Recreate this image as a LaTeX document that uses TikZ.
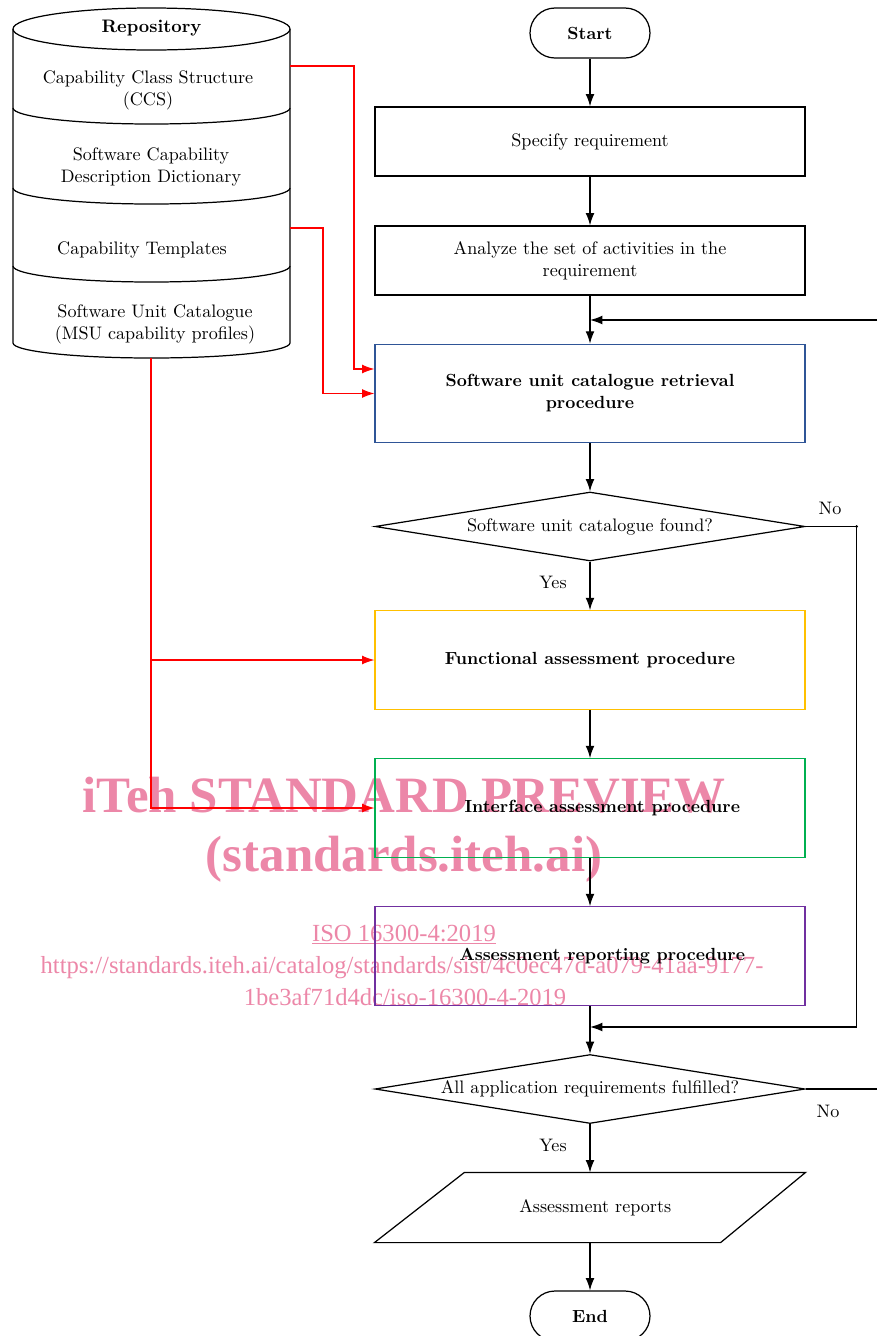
\documentclass[tikz,border=0pt]{standalone}
\usepackage{fontspec}
\newfontfamily\wmfont{Liberation Serif}
\usetikzlibrary{calc, arrows.meta, shapes.geometric}

\definecolor{retrblue}{RGB}{47,85,151}
\definecolor{funcyellow}{RGB}{255,192,0}
\definecolor{intfgreen}{RGB}{0,176,80}
\definecolor{reptpurple}{RGB}{112,48,160}
\definecolor{wmpink}{RGB}{236,135,168}

\begin{document}
\begin{tikzpicture}[x=0.02cm, y=0.02cm, line width=0.7pt,
  font=\fontsize{10.3}{12.5}\selectfont,
  box/.style={draw, rectangle, minimum width=8.6cm, minimum height=1.38cm, align=center, inner sep=2pt},
  bigbox/.style={box, minimum height=1.97cm, font=\fontsize{10}{12.5}\selectfont\bfseries},
  term/.style={draw, rectangle, rounded corners=0.5cm, minimum width=2.4cm, minimum height=1cm, font=\fontsize{10}{12.5}\selectfont\bfseries},
  decision/.style={draw, diamond, aspect=6.2, inner sep=0pt, minimum width=8.6cm, minimum height=1.38cm},
  arr/.style={-{Latex[length=7pt, width=5pt]}},
  redarr/.style={red, line width=0.6pt, -{Latex[length=7pt, width=5pt]}},
  wmbig/.style={text=wmpink, anchor=base, font=\wmfont\fontsize{29}{29}\selectfont\bfseries},
  wmsmall/.style={text=wmpink, anchor=base, font=\wmfont\fontsize{14}{14}\selectfont}
]
  \useasboundingbox (0,0) rectangle (877,-1336);

  % watermark
  \node[wmbig] (wmA) at (404,-812) {iTeh STANDARD PREVIEW};
  \node[wmbig] (wmB) at (404,-871) {(standards.iteh.ai)};
  \node[wmsmall] (wmC) at (404,-941) {\underline{ISO 16300-4:2019}};
  \node[wmsmall] (wmD) at (402,-973) {https://standards.iteh.ai/catalog/standards/sist/4c0ec47d-a079-41aa-9177-};
  \node[wmsmall] (wmE) at (405,-1005) {1be3af71d4dc/iso-16300-4-2019};

  % repository drum
  \draw (151.5,-29) ellipse [x radius=138.5, y radius=21];
  \draw (13,-29) -- (13,-343) arc [start angle=180, end angle=360, x radius=138.5, y radius=15] -- (290,-29);
  \foreach \y in {108,188,266}
    \draw (13,-\y) arc [start angle=180, end angle=360, x radius=138.5, y radius=16];
  \node[font=\fontsize{10.3}{12.5}\selectfont\bfseries] (repo) at (151.5,-28) {Repository};
  \node[align=center] (ccs) at (148,-90) {Capability Class Structure\\(CCS)};
  \node[align=center] (dict) at (151,-167) {Software Capability\\Description Dictionary};
  \node (tmpl) at (142,-250) {Capability Templates};
  \node[align=center] (cat) at (155,-324) {Software Unit Catalogue\\(MSU capability profiles)};
  \coordinate (ccsout) at (290,-66);
  \coordinate (tmplout) at (290,-228);
  \coordinate (catout) at (151,-358);

  % main flow
  \node[term] (start) at (590,-33) {Start};
  \node[box] (spec) at (590,-141.5) {Specify requirement};
  \node[box] (anal) at (590,-260.5) {Analyze the set of activities in the\\requirement};
  \node[bigbox, draw=retrblue] (retr) at (590,-393.5) {Software unit catalogue retrieval\\procedure};
  \node[decision] (found) at (590,-526.5) {Software unit catalogue found?\hspace{36pt}};
  \node[bigbox, draw=funcyellow] (func) at (590,-660) {Functional assessment procedure};
  \node[bigbox, draw=intfgreen] (intf) at (590,-808) {\hspace{14pt}Interface assessment procedure};
  \node[bigbox, draw=reptpurple] (rept) at (590,-956) {\hspace{14pt}Assessment reporting procedure};
  \node[decision] (done) at (590,-1089) {All application requirements fulfilled?\hspace{12pt}};
  \node[minimum width=8.6cm, minimum height=1.38cm] (out) at (590,-1207.5) {\hspace{6pt}Assessment reports};
  \draw ($(out.north west)+(90,0)$) -- (out.north east) -- ($(out.south east)+(-85,0)$) -- (out.south west) -- cycle;
  \node[term] (stop) at (590,-1316) {End};

  \draw[arr] (start) -- (spec);
  \draw[arr] (spec) -- (anal);
  \draw[arr] (anal) -- (retr);
  \draw[arr] (retr) -- (found);
  \draw[arr] (found) -- (func);
  \draw[arr] (func) -- (intf);
  \draw[arr] (intf) -- (rept);
  \draw[arr] (rept) -- (done);
  \draw[arr] (done) -- (out);
  \draw[arr] (out) -- (stop);

  % loops on the right
  \coordinate (back) at (877,-320);
  \draw[arr] (back) -- (back -| anal.south);
  \draw[arr] (found.east) -- ++(51,0) coordinate (turn) |- ($(rept.south)!0.44!(done.north)$);
  \fill (turn) circle [radius=1.5];
  \coordinate (again) at (877,-1089);
  \draw (done.east) -- (again);

  \node (no1) at (830,-508) {No};
  \node (yes1) at (553,-582) {Yes};
  \node (no2) at (828,-1111) {No};
  \node (yes2) at (553,-1145) {Yes};

  % red inputs from repository
  \draw[redarr] (ccsout) -- ++(64,0) |- ($(retr.west)+(0,24.5)$);
  \draw[redarr] (tmplout) -- ++(33,0) |- (retr.west);
  \draw[redarr] (catout) |- (func.west);
  \draw[redarr] (catout) |- (intf.west);
\end{tikzpicture}
\end{document}
